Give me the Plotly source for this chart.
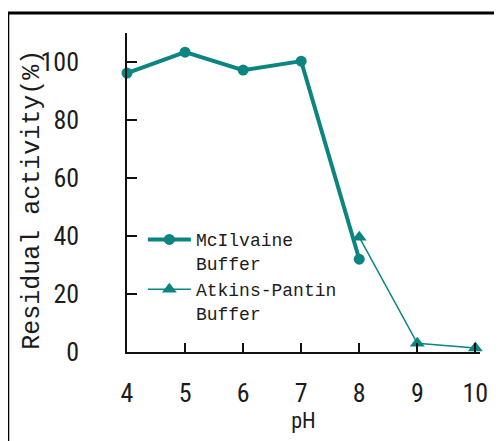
import plotly.graph_objects as go

ph_mc = [4, 5, 6, 7, 8]
act_mc = [96.2, 103.4, 97.2, 100.3, 32.0]
ph_ap = [8, 9, 10]
act_ap = [39.6, 3.0, 1.4]
x_ticks = [4, 5, 6, 7, 8, 9, 10]
y_ticks = [0, 20, 40, 60, 80, 100]

teal = "#0c8580"
txt = "#1c1c1c"
num_font = dict(family="Liberation Sans Narrow, Arial Narrow, Roboto Condensed, sans-serif", size=26, color=txt)
mono = "Liberation Mono, DejaVu Sans Mono, monospace"

fig = go.Figure()
fig.add_trace(go.Scatter(
    x=ph_mc, y=act_mc, mode="lines+markers", name="McIlvaine<br>Buffer",
    line=dict(color=teal, width=4), marker=dict(symbol="circle", size=11, color=teal),
    cliponaxis=False,
))
fig.add_trace(go.Scatter(
    x=ph_ap, y=act_ap, mode="lines+markers", name="Atkins-Pantin<br>Buffer",
    line=dict(color=teal, width=1.5), marker=dict(symbol="triangle-up", size=13, color=teal),
    cliponaxis=False,
))

# page body has an 8px margin, so the figure is 8px smaller than the window
W, H = 494, 433
fig.update_layout(
    width=W, height=H,
    margin=dict(l=119, r=22, t=25, b=89, autoexpand=False),
    paper_bgcolor="white", plot_bgcolor="white",
    showlegend=True,
    legend=dict(x=0.045, y=0.41, xanchor="left", yanchor="top",
                font=dict(family=mono, size=18, color=txt), itemwidth=43,
                bgcolor="rgba(0,0,0,0)", valign="top", tracegroupgap=0),
    xaxis=dict(range=[4, 10.08], tickmode="array", tickvals=x_ticks,
               ticktext=[str(v) for v in x_ticks],
               showline=True, linecolor="#111", linewidth=1.5, mirror=False,
               ticks="inside", ticklen=9, tickwidth=1.5, tickcolor="#111",
               showgrid=False, zeroline=False, tickfont=num_font,
               ticklabelstandoff=17, automargin=False,
               title=dict(text="pH", font=dict(family=num_font["family"], size=22, color=txt), standoff=0)),
    yaxis=dict(range=[0, 110], tickmode="array", tickvals=y_ticks,
               ticktext=[str(v) for v in y_ticks],
               showline=True, linecolor="#111", linewidth=1.5,
               ticks="inside", ticklen=10, tickwidth=1.5, tickcolor="#111",
               showgrid=False, zeroline=False, tickfont=num_font,
               ticklabelstandoff=41, automargin=False),
    annotations=[
        dict(text="Residual activity(%)", xref="paper", yref="paper", x=-0.27, y=0.476,
             xanchor="center", yanchor="middle", textangle=-90, showarrow=False,
             font=dict(family=mono, size=25, color=txt)),
    ],
    shapes=[
        dict(type="line", xref="paper", yref="paper", x0=-0.337, x1=1.2, y0=1.0627, y1=1.0627,
             line=dict(color="black", width=3)),
        dict(type="line", xref="paper", yref="paper", x0=-0.337, x1=-0.337, y0=-0.4, y1=1.0627,
             line=dict(color="black", width=2.5)),
    ],
)

fig.write_html("out.html")
